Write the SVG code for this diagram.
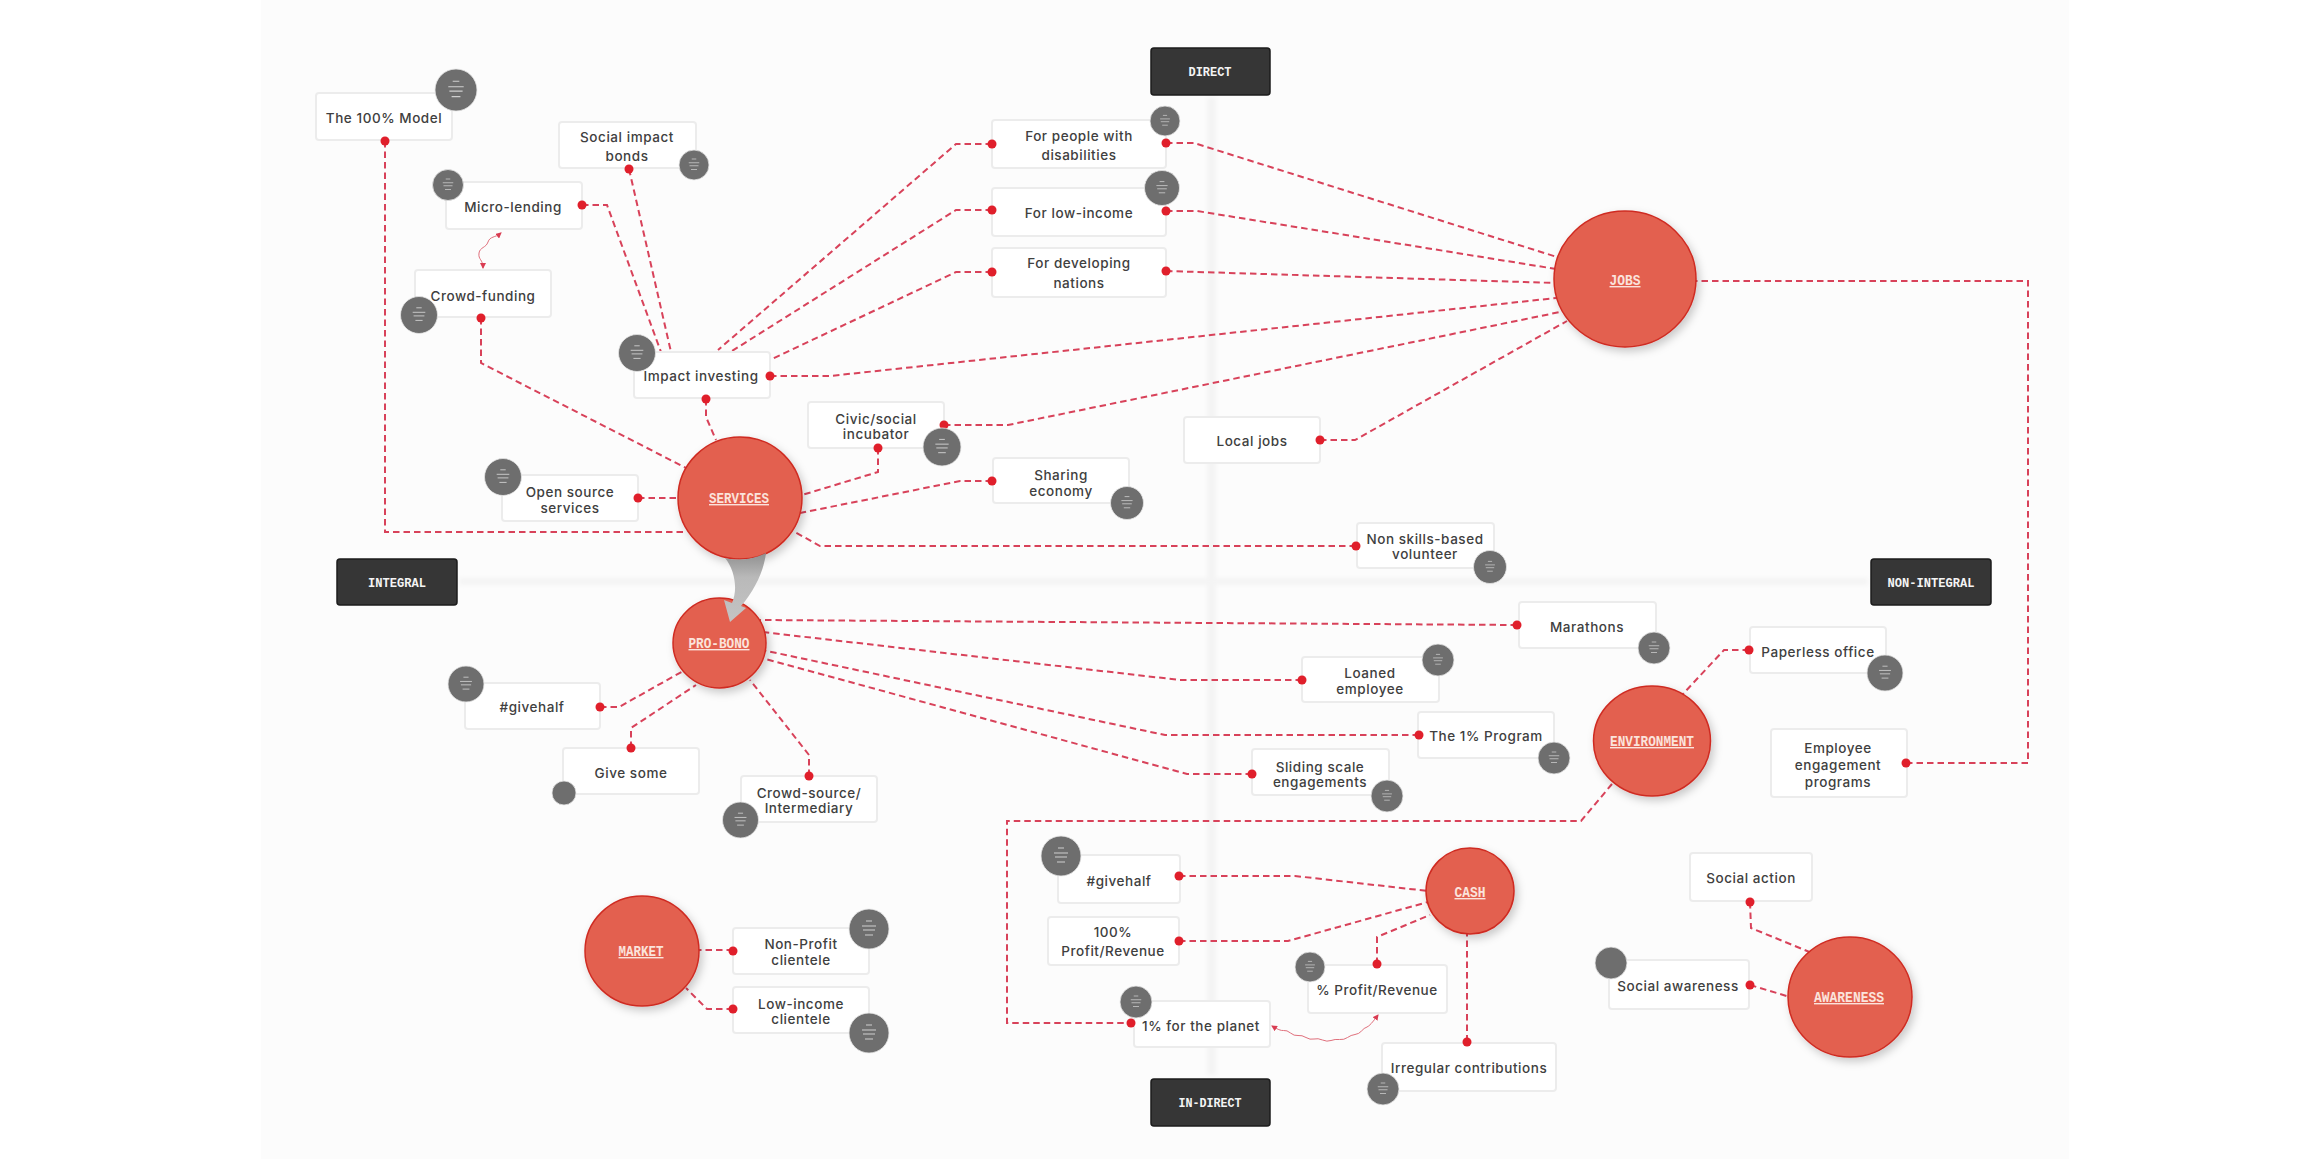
<svg xmlns="http://www.w3.org/2000/svg" width="2313" height="1161" viewBox="0 0 2313 1161">
<style>
.bx{fill:#fff;stroke:#ececec;stroke-width:2}
.t{font-family:"Inter","Liberation Sans",sans-serif;font-size:13.5px;font-weight:500;letter-spacing:.55px;fill:#404040;text-anchor:middle}
.hub{fill:#e3614f;stroke:#cf2c22;stroke-width:1.5;filter:url(#sh)}
.hl{font-family:"Liberation Mono",monospace;font-size:14px;font-weight:700;fill:#fbe3dc;text-anchor:middle;text-decoration:underline}
.ax{fill:#363636;stroke:#1c1c1c;stroke-width:1.5}
.al{font-family:"Liberation Mono",monospace;font-size:13.5px;font-weight:700;fill:#f4f4f4;text-anchor:middle}
.c{fill:none;stroke:#d8425a;stroke-width:2;stroke-dasharray:6.5 4}
.w{fill:none;stroke:#e0707c;stroke-width:1}
.d{fill:#e01f2b}
.b{fill:#6e6e6e;stroke:#e6e6e6;stroke-width:.8}
.m{stroke:#f0f0f0;stroke-width:1;fill:none;opacity:.75;filter:url(#bl)}
</style>
<defs>
<filter id="sh" x="-20%" y="-20%" width="145%" height="145%"><feDropShadow dx="3" dy="4" stdDeviation="4" flood-color="#000" flood-opacity=".2"/></filter>
<filter id="bl" x="-30%" y="-50%" width="160%" height="200%"><feGaussianBlur stdDeviation=".5"/></filter>
<filter id="ab" x="-50%" y="-5%" width="200%" height="110%"><feGaussianBlur stdDeviation="2"/></filter>
<filter id="ah" x="-5%" y="-100%" width="110%" height="300%"><feGaussianBlur stdDeviation="2"/></filter>
<linearGradient id="ag" x1="0" y1="0" x2="0" y2="1"><stop offset="0" stop-color="#8f8f8f"/><stop offset=".35" stop-color="#b9b9b9"/><stop offset="1" stop-color="#c4c4c4"/></linearGradient>
<marker id="wh" viewBox="0 0 6 6" refX="5" refY="3" markerWidth="6" markerHeight="6" orient="auto-start-reverse" markerUnits="userSpaceOnUse"><path d="M0,0L6,3L0,6Z" fill="#d93c52"/></marker>
<g id="m"><path class="m" d="M-3,-8H3M-7,-3H7M-6,1H6M-4,6H4"/></g>
</defs>
<rect width="2313" height="1161" fill="#fff"/>
<rect x="261" y="0" width="1808" height="1159" fill="#fcfcfc"/>
<rect x="1207" y="97" width="9" height="978" fill="#f4f4f4" filter="url(#ab)"/>
<rect x="459" y="578" width="1409" height="7" fill="#f4f4f4" filter="url(#ah)"/>
<g id="connectors">
<path class="c" d="M385,141V532H685"/>
<path class="c" d="M629,169L671,352"/>
<path class="c" d="M582,205H607L661,352"/>
<path class="c" d="M481,318V363L690,470"/>
<path class="c" d="M706,399V417L716,440"/>
<path class="c" d="M992,144H956L718,350"/>
<path class="c" d="M992,210H956L732,351"/>
<path class="c" d="M992,272H956L770,360"/>
<path class="c" d="M1166,143H1194L1557,257"/>
<path class="c" d="M1166,211H1197L1556,269"/>
<path class="c" d="M1166,271L1556,283"/>
<path class="c" d="M770,376H830L1556,298"/>
<path class="c" d="M944,425H1008L1560,312"/>
<path class="c" d="M1320,440H1355L1567,321"/>
<path class="c" d="M638,498H680"/>
<path class="c" d="M878,448V472L802,495"/>
<path class="c" d="M992,481H960L800,513"/>
<path class="c" d="M1356,546H820L793,531"/>
<path class="c" d="M1517,625L760,620"/>
<path class="c" d="M1302,680H1180L762,632"/>
<path class="c" d="M1419,735H1165L762,650"/>
<path class="c" d="M1252,774H1187L762,658"/>
<path class="c" d="M600,707H619L685,670"/>
<path class="c" d="M631,748V728L696,685"/>
<path class="c" d="M809,776V755L750,680"/>
<path class="c" d="M1749,650H1724L1682,695"/>
<path class="c" d="M1906,763H2028V281H1692"/>
<path class="c" d="M1612,784L1581,821H1007V1023H1132"/>
<path class="c" d="M733,950H695"/>
<path class="c" d="M733,1009H707L686,988"/>
<path class="c" d="M1179,876H1295L1428,891"/>
<path class="c" d="M1179,941H1288L1428,902"/>
<path class="c" d="M1377,964V937L1430,915"/>
<path class="c" d="M1467,930V1042"/>
<path class="c" d="M1750,902L1751,928L1812,953"/>
<path class="c" d="M1750,985L1790,997"/>
<path class="w" marker-start="url(#wh)" marker-end="url(#wh)" d="M501,233C495,238 490,236 488,242C486,248 480,247 479,253C478,260 483,259 483,268"/>
<path class="w" marker-start="url(#wh)" marker-end="url(#wh)" d="M1272,1026Q1280,1031 1283.5,1030.5Q1287,1030 1290.5,1033Q1294,1036 1298,1035.5Q1302,1035 1306,1037.5Q1310,1040 1314,1039Q1318,1038 1322.5,1040Q1327,1042 1331,1040.5Q1335,1039 1339.5,1039.5Q1344,1040 1347.5,1037.5Q1351,1035 1355,1034.5Q1359,1034 1361.5,1031Q1364,1028 1367,1027Q1370,1026 1378,1015"/>
</g>
<g id="axis-direct"><rect class="ax" x="1151" y="48" width="119" height="47" rx="3"/><text class="al" x="1210" y="76" textLength="43" lengthAdjust="spacingAndGlyphs">DIRECT</text></g>
<g id="axis-indirect"><rect class="ax" x="1151" y="1079" width="119" height="47" rx="3"/><text class="al" x="1210" y="1107" textLength="63" lengthAdjust="spacingAndGlyphs">IN-DIRECT</text></g>
<g id="axis-integral"><rect class="ax" x="337" y="559" width="120" height="46" rx="3"/><text class="al" x="397" y="587" textLength="58" lengthAdjust="spacingAndGlyphs">INTEGRAL</text></g>
<g id="axis-nonintegral"><rect class="ax" x="1871" y="559" width="120" height="46" rx="3"/><text class="al" x="1931" y="587" textLength="87" lengthAdjust="spacingAndGlyphs">NON-INTEGRAL</text></g>

<g id="n-100-model"><rect class="bx" x="316" y="93" width="136" height="47" rx="3"/><text class="t" x="384" y="123">The 100% Model</text><circle class="d" cx="385" cy="141" r="4.5"/><circle class="b" cx="456" cy="90" r="21"/><use href="#m" transform="translate(456 90) scale(1.1)"/></g>
<g id="n-social-bonds"><rect class="bx" x="559" y="122" width="137" height="46" rx="3"/><text class="t" x="627" y="142">Social impact</text><text class="t" x="627" y="161">bonds</text><circle class="d" cx="629" cy="169" r="4.5"/><circle class="b" cx="694" cy="165" r="15"/><use href="#m" transform="translate(694 165) scale(.75)"/></g>
<g id="n-micro"><rect class="bx" x="446" y="182" width="136" height="47" rx="3"/><text class="t" x="513" y="212">Micro-lending</text><circle class="d" cx="582" cy="205" r="4.5"/><circle class="b" cx="448" cy="185" r="15.5"/><use href="#m" transform="translate(448 185) scale(.75)"/></g>
<g id="n-crowd-funding"><rect class="bx" x="415" y="270" width="136" height="47" rx="3"/><text class="t" x="483" y="301">Crowd-funding</text><circle class="d" cx="481" cy="318" r="4.5"/><circle class="b" cx="419" cy="315" r="18.5"/><use href="#m" transform="translate(419 315) scale(.9)"/></g>
<g id="n-impact"><rect class="bx" x="634" y="352" width="136" height="46" rx="3"/><text class="t" x="701" y="381">Impact investing</text><circle class="d" cx="770" cy="376" r="4.5"/><circle class="d" cx="706" cy="399" r="4.5"/><circle class="b" cx="637" cy="353" r="18.5"/><use href="#m" transform="translate(637 353) scale(.9)"/></g>
<g id="n-open-source"><rect class="bx" x="502" y="475" width="136" height="46" rx="3"/><text class="t" x="570" y="497">Open source</text><text class="t" x="570" y="513">services</text><circle class="d" cx="638" cy="498" r="4.5"/><circle class="b" cx="503" cy="477" r="18.5"/><use href="#m" transform="translate(503 477) scale(.9)"/></g>
<g id="n-civic"><rect class="bx" x="808" y="402" width="136" height="46" rx="3"/><text class="t" x="876" y="424">Civic/social</text><text class="t" x="876" y="439">incubator</text><circle class="d" cx="878" cy="448" r="4.5"/><circle class="d" cx="944" cy="425" r="4.5"/><circle class="b" cx="942" cy="447" r="19"/><use href="#m" transform="translate(942 447) scale(.95)"/></g>
<g id="n-sharing"><rect class="bx" x="993" y="458" width="136" height="45" rx="3"/><text class="t" x="1061" y="480">Sharing</text><text class="t" x="1061" y="496">economy</text><circle class="d" cx="992" cy="481" r="4.5"/><circle class="b" cx="1127" cy="503" r="16.5"/><use href="#m" transform="translate(1127 503) scale(.8)"/></g>
<g id="n-disabilities"><rect class="bx" x="992" y="120" width="174" height="48" rx="3"/><text class="t" x="1079" y="141">For people with</text><text class="t" x="1079" y="160">disabilities</text><circle class="d" cx="992" cy="144" r="4.5"/><circle class="d" cx="1166" cy="143" r="4.5"/><circle class="b" cx="1165" cy="121" r="15"/><use href="#m" transform="translate(1165 121) scale(.7)"/></g>
<g id="n-low-income"><rect class="bx" x="992" y="188" width="174" height="48" rx="3"/><text class="t" x="1079" y="218">For low-income</text><circle class="d" cx="992" cy="210" r="4.5"/><circle class="d" cx="1166" cy="211" r="4.5"/><circle class="b" cx="1162" cy="188" r="17.5"/><use href="#m" transform="translate(1162 188) scale(.8)"/></g>
<g id="n-developing"><rect class="bx" x="992" y="248" width="174" height="49" rx="3"/><text class="t" x="1079" y="268">For developing</text><text class="t" x="1079" y="288">nations</text><circle class="d" cx="992" cy="272" r="4.5"/><circle class="d" cx="1166" cy="271" r="4.5"/></g>
<g id="n-local-jobs"><rect class="bx" x="1184" y="417" width="136" height="46" rx="3"/><text class="t" x="1252" y="446">Local jobs</text><circle class="d" cx="1320" cy="440" r="4.5"/></g>
<g id="n-non-skills"><rect class="bx" x="1357" y="523" width="137" height="45" rx="3"/><text class="t" x="1425" y="544">Non skills-based</text><text class="t" x="1425" y="559">volunteer</text><circle class="d" cx="1356" cy="546" r="4.5"/><circle class="b" cx="1490" cy="567" r="16.5"/><use href="#m" transform="translate(1490 567) scale(.7)"/></g>
<g id="n-marathons"><rect class="bx" x="1519" y="602" width="137" height="46" rx="3"/><text class="t" x="1587" y="632">Marathons</text><circle class="d" cx="1517" cy="625" r="4.5"/><circle class="b" cx="1654" cy="648" r="16"/><use href="#m" transform="translate(1654 648) scale(.75)"/></g>
<g id="n-loaned"><rect class="bx" x="1302" y="657" width="137" height="45" rx="3"/><text class="t" x="1370" y="678">Loaned</text><text class="t" x="1370" y="694">employee</text><circle class="d" cx="1302" cy="680" r="4.5"/><circle class="b" cx="1438" cy="660" r="16"/><use href="#m" transform="translate(1438 660) scale(.7)"/></g>
<g id="n-one-percent"><rect class="bx" x="1418" y="712" width="136" height="46" rx="3"/><text class="t" x="1486" y="741">The 1% Program</text><circle class="d" cx="1419" cy="735" r="4.5"/><circle class="b" cx="1554" cy="758" r="16"/><use href="#m" transform="translate(1554 758) scale(.75)"/></g>
<g id="n-sliding"><rect class="bx" x="1252" y="749" width="137" height="46" rx="3"/><text class="t" x="1320" y="772">Sliding scale</text><text class="t" x="1320" y="787">engagements</text><circle class="d" cx="1252" cy="774" r="4.5"/><circle class="b" cx="1387" cy="796" r="16"/><use href="#m" transform="translate(1387 796) scale(.7)"/></g>
<g id="n-paperless"><rect class="bx" x="1750" y="627" width="136" height="46" rx="3"/><text class="t" x="1818" y="657">Paperless office</text><circle class="d" cx="1749" cy="650" r="4.5"/><circle class="b" cx="1885" cy="673" r="18"/><use href="#m" transform="translate(1885 673) scale(.85)"/></g>
<g id="n-employee"><rect class="bx" x="1771" y="729" width="136" height="68" rx="3"/><text class="t" x="1838" y="753">Employee</text><text class="t" x="1838" y="770">engagement</text><text class="t" x="1838" y="787">programs</text><circle class="d" cx="1906" cy="763" r="4.5"/></g>
<g id="n-givehalf-1"><rect class="bx" x="465" y="683" width="135" height="46" rx="3"/><text class="t" x="532" y="712">#givehalf</text><circle class="d" cx="600" cy="707" r="4.5"/><circle class="b" cx="466" cy="684" r="18"/><use href="#m" transform="translate(466 684) scale(.85)"/></g>
<g id="n-give-some"><rect class="bx" x="563" y="748" width="136" height="46" rx="3"/><text class="t" x="631" y="778">Give some</text><circle class="d" cx="631" cy="748" r="4.5"/><circle class="b" cx="564" cy="793" r="12"/><path class="m" d="M559,793H569"/></g>
<g id="n-crowd-source"><rect class="bx" x="741" y="776" width="136" height="46" rx="3"/><text class="t" x="809" y="798">Crowd-source/</text><text class="t" x="809" y="813">Intermediary</text><circle class="d" cx="809" cy="776" r="4.5"/><circle class="b" cx="740.5" cy="820" r="18"/><use href="#m" transform="translate(740.5 820) scale(.85)"/></g>
<g id="n-non-profit"><rect class="bx" x="733" y="928" width="136" height="46" rx="3"/><text class="t" x="801" y="949">Non-Profit</text><text class="t" x="801" y="965">clientele</text><circle class="d" cx="733" cy="951" r="4.5"/><circle class="b" cx="869" cy="929" r="20"/><use href="#m" transform="translate(869 929)"/></g>
<g id="n-low-clientele"><rect class="bx" x="733" y="987" width="136" height="46" rx="3"/><text class="t" x="801" y="1009">Low-income</text><text class="t" x="801" y="1024">clientele</text><circle class="d" cx="733" cy="1009" r="4.5"/><circle class="b" cx="869" cy="1033" r="20"/><use href="#m" transform="translate(869 1033)"/></g>
<g id="n-givehalf-2"><rect class="bx" x="1058" y="855" width="122" height="48" rx="3"/><text class="t" x="1119" y="886">#givehalf</text><circle class="d" cx="1179" cy="876" r="4.5"/><circle class="b" cx="1061" cy="856" r="20"/><use href="#m" transform="translate(1061 856)"/></g>
<g id="n-hundred"><rect class="bx" x="1048" y="917" width="131" height="48" rx="3"/><text class="t" x="1113" y="937">100%</text><text class="t" x="1113" y="956">Profit/Revenue</text><circle class="d" cx="1179" cy="941" r="4.5"/></g>
<g id="n-percent"><rect class="bx" x="1308" y="965" width="139" height="48" rx="3"/><text class="t" x="1377" y="995">% Profit/Revenue</text><circle class="d" cx="1377" cy="964" r="4.5"/><circle class="b" cx="1310" cy="967" r="15"/><use href="#m" transform="translate(1310 967) scale(.7)"/></g>
<g id="n-planet"><rect class="bx" x="1134" y="1001" width="136" height="46" rx="3"/><text class="t" x="1201" y="1031">1% for the planet</text><circle class="d" cx="1131" cy="1023" r="4.5"/><circle class="b" cx="1136" cy="1002" r="16"/><use href="#m" transform="translate(1136 1002) scale(.75)"/></g>
<g id="n-irregular"><rect class="bx" x="1382" y="1043" width="174" height="48" rx="3"/><text class="t" x="1469" y="1073">Irregular contributions</text><circle class="d" cx="1467" cy="1042" r="4.5"/><circle class="b" cx="1383" cy="1089" r="16"/><use href="#m" transform="translate(1383 1089) scale(.75)"/></g>
<g id="n-social-action"><rect class="bx" x="1690" y="853" width="122" height="48" rx="3"/><text class="t" x="1751" y="883">Social action</text><circle class="d" cx="1750" cy="902" r="4.5"/></g>
<g id="n-social-awareness"><rect class="bx" x="1609" y="960" width="140" height="49" rx="3"/><text class="t" x="1678" y="991">Social awareness</text><circle class="d" cx="1750" cy="985" r="4.5"/><circle class="b" cx="1611" cy="963" r="16"/><path class="m" d="M1604,963H1618"/></g>

<g id="hub-jobs"><ellipse class="hub" cx="1625" cy="279" rx="71" ry="68"/><text class="hl" x="1625" y="285" textLength="31" lengthAdjust="spacingAndGlyphs">JOBS</text></g>
<g id="hub-services"><ellipse class="hub" cx="740" cy="498" rx="62" ry="61"/><text class="hl" x="739" y="503" textLength="60" lengthAdjust="spacingAndGlyphs">SERVICES</text></g>
<g id="hub-probono"><ellipse class="hub" cx="719.5" cy="643" rx="46.5" ry="45"/><text class="hl" x="719" y="648" textLength="61" lengthAdjust="spacingAndGlyphs">PRO-BONO</text></g>
<g id="hub-environment"><ellipse class="hub" cx="1652" cy="741" rx="58.5" ry="55"/><text class="hl" x="1652" y="746" textLength="84" lengthAdjust="spacingAndGlyphs">ENVIRONMENT</text></g>
<g id="hub-cash"><ellipse class="hub" cx="1470" cy="891" rx="44" ry="43"/><text class="hl" x="1470" y="897" textLength="31" lengthAdjust="spacingAndGlyphs">CASH</text></g>
<g id="hub-market"><ellipse class="hub" cx="642" cy="951" rx="57" ry="55"/><text class="hl" x="641" y="956" textLength="45" lengthAdjust="spacingAndGlyphs">MARKET</text></g>
<g id="hub-awareness"><ellipse class="hub" cx="1850" cy="997" rx="62" ry="60"/><text class="hl" x="1849" y="1002" textLength="70" lengthAdjust="spacingAndGlyphs">AWARENESS</text></g>
<g id="link-services-probono"><path fill="url(#ag)" d="M725,558C735,570 738,590 732,603L724,600L730,622L746,608L741,606C755,590 764,570 766,553C752,560 738,561 725,558Z"/></g>
</svg>
